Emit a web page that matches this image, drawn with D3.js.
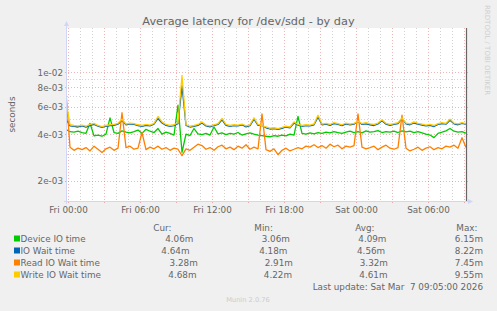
<!DOCTYPE html>
<html><head><meta charset="utf-8">
<script src="https://cdn.jsdelivr.net/npm/d3@7"></script>
<style>
html,body{margin:0;padding:0;background:#f0f0f0;}
svg{display:block;font-family:"DejaVu Sans",sans-serif;}
</style></head><body><div id="main"></div>
<script>
// values in milliseconds, one sample every 20 minutes starting Thu 23:50 UTC
const seriesNames  = ['Device IO time', 'IO Wait time', 'Read IO Wait time', 'Write IO Wait time'];
const seriesColors = ['#00cc00', '#0066b3', '#ff8000', '#ffcc00'];

const deviceIO = [4.30,4.15,4.12,4.18,4.10,4.05,4.70,3.90,3.95,3.88,4.00,5.10,4.10,4.05,4.20,4.12,4.08,4.15,4.25,4.05,
  4.30,4.18,4.10,4.35,4.00,4.12,4.05,3.95,6.15,3.06,4.00,3.92,4.35,4.02,3.98,4.05,3.95,4.45,4.02,4.08,
  3.98,4.05,4.00,4.10,3.95,4.02,4.08,4.00,3.95,3.92,3.88,3.85,3.92,3.88,3.95,3.90,4.00,3.95,5.20,4.05,
  4.00,4.08,4.02,4.10,4.05,4.12,4.08,4.15,4.10,4.05,4.12,4.18,4.10,4.15,4.08,4.20,4.12,4.15,4.22,4.10,
  4.16,4.12,4.18,4.10,4.20,4.14,4.18,4.10,4.15,4.08,4.00,3.95,3.80,4.05,4.12,4.20,4.35,4.18,4.12,4.15,4.06];
const ioWait = [5.00,4.52,4.50,4.45,4.52,4.44,4.55,4.62,4.50,4.42,4.50,4.55,4.56,4.64,4.90,4.60,4.66,4.62,4.55,4.50,
  4.56,4.52,4.64,5.05,4.72,4.56,4.50,4.54,4.68,8.22,4.55,4.45,4.50,4.56,4.72,4.52,4.46,4.55,4.62,4.95,
  4.56,4.50,4.54,4.52,4.60,4.46,4.54,5.00,4.56,4.55,4.40,4.32,4.35,4.30,4.36,4.45,4.40,4.72,4.58,4.50,
  4.54,4.52,4.60,5.15,4.60,4.64,4.56,4.68,4.62,4.54,4.66,4.60,4.64,4.85,4.62,4.66,4.60,4.55,4.66,4.88,
  4.64,4.56,4.62,4.68,5.05,4.66,4.60,4.72,4.64,4.58,4.52,4.56,4.48,4.62,4.68,4.64,4.92,4.66,4.60,4.70,4.64];
const readWait = [7.45,3.30,3.15,3.25,3.18,3.28,3.12,3.35,3.20,3.05,3.22,3.30,3.15,3.25,5.50,3.28,3.35,3.20,3.25,4.10,
  3.18,3.30,3.22,3.35,3.20,3.28,3.15,3.25,3.20,2.91,3.22,3.15,3.30,3.45,3.38,3.20,3.28,3.15,3.32,3.40,
  3.22,3.30,3.18,3.35,3.25,3.42,3.20,3.30,3.22,5.40,3.18,3.10,3.22,2.95,3.15,3.25,3.12,3.20,3.28,3.22,
  3.35,3.30,3.42,3.28,3.38,3.25,3.45,3.32,3.40,3.22,3.35,3.30,3.38,5.40,3.30,3.22,3.28,3.35,3.18,3.30,
  3.40,3.25,3.20,3.28,5.30,3.25,3.12,3.20,3.30,3.15,3.25,3.32,3.18,3.28,3.22,3.35,3.30,3.40,3.25,3.80,3.28];
const writeWait = [6.60,4.60,4.55,4.52,4.58,4.50,4.62,4.70,4.55,4.48,4.55,4.60,4.62,4.70,5.00,4.65,4.72,4.68,4.60,4.55,
  4.62,4.58,4.70,5.20,4.80,4.62,4.55,4.60,4.75,9.55,4.60,4.50,4.55,4.62,4.80,4.58,4.52,4.60,4.68,5.05,
  4.62,4.55,4.60,4.58,4.65,4.52,4.60,5.10,4.62,4.55,4.45,4.38,4.40,4.35,4.42,4.50,4.45,4.80,4.62,4.55,
  4.60,4.58,4.66,5.30,4.65,4.70,4.62,4.75,4.68,4.60,4.72,4.65,4.70,4.85,4.68,4.74,4.66,4.62,4.72,4.95,
  4.70,4.62,4.68,4.75,5.10,4.72,4.66,4.80,4.70,4.65,4.58,4.62,4.55,4.68,4.74,4.70,5.00,4.72,4.66,4.75,4.68];

const curVals = [4.06, 4.64, 3.28, 4.68];
const minVals = [3.06, 4.18, 2.91, 4.22];
const avgVals = [4.09, 4.56, 3.32, 4.61];
const maxVals = [6.15, 8.22, 7.45, 9.55];

const yMajorTicks  = [2e-3, 4e-3, 6e-3, 8e-3, 1e-2];
const yTickLabels  = ['2e-03', '4e-03', '6e-03', '8e-03', '1e-02'];
const yMinorTicks  = [3e-3, 5e-3, 7e-3, 9e-3];
const statHeaders  = ['Cur:', 'Min:', 'Avg:', 'Max:'];

const title = 'Average latency for /dev/sdd - by day';
const lastUpdate = 'Last update: Sat Mar  7 09:05:00 2026';

const W = 497, H = 311;
const plot = { left: 67, right: 466, top: 28, bottom: 201 };
const t0 = Date.UTC(2026, 2, 5, 23, 50), t1 = Date.UTC(2026, 2, 7, 9, 10);
const stepMs = 20 * 60 * 1000;

const sx = d3.scaleUtc().domain([t0, t1]).range([66, 466]);
const sy = d3.scaleLog().domain([1.486e-3, 1.93e-2]).range([plot.bottom, plot.top]);

const svg = d3.select('#main').append('svg')
  .attr('width', W).attr('height', H).attr('viewBox', [0, 0, W, H]);

svg.append('rect').attr('width', W).attr('height', H).attr('fill', '#f0f0f0');
svg.append('rect')
  .attr('x', plot.left).attr('y', plot.top)
  .attr('width', plot.right - plot.left).attr('height', plot.bottom - plot.top)
  .attr('fill', '#fff');

const GRID = 'rgba(143,143,143,0.4)', MGRID = 'rgba(222,79,79,0.42)';
const grid = svg.append('g').attr('shape-rendering', 'crispEdges').attr('stroke-dasharray', '1,2');

// vertical grid: every hour minor, every 3 hours major
d3.utcHour.range(new Date(t0), new Date(t1)).forEach(d => {
  const x = Math.round(sx(d)) + 0.5;
  if (x <= plot.left || x >= plot.right) return;
  const major = d.getUTCHours() % 3 === 0;
  grid.append('line').attr('x1', x).attr('x2', x)
    .attr('y1', plot.top).attr('y2', plot.bottom + (major ? 2 : 0))
    .attr('stroke', major ? MGRID : GRID);
});
// horizontal grid
yMinorTicks.forEach(v => {
  const y = Math.round(sy(v)) + 0.5;
  grid.append('line').attr('x1', plot.left).attr('x2', plot.right + 2)
    .attr('y1', y).attr('y2', y).attr('stroke', GRID);
});
yMajorTicks.forEach(v => {
  const y = Math.round(sy(v)) + 0.5;
  grid.append('line').attr('x1', plot.left - 2).attr('x2', plot.right + 2)
    .attr('y1', y).attr('y2', y).attr('stroke', MGRID);
});

// series
svg.append('clipPath').attr('id', 'clip').append('rect')
  .attr('x', plot.left).attr('y', plot.top)
  .attr('width', plot.right - plot.left).attr('height', plot.bottom - plot.top);

const allSeries = [deviceIO, ioWait, readWait, writeWait];
const line = d3.line()
  .x((d, i) => sx(t0 + i * stepMs))
  .y(d => sy(d / 1000));
svg.append('g').attr('clip-path', 'url(#clip)')
  .selectAll('path').data(allSeries).join('path')
  .attr('d', line)
  .attr('fill', 'none')
  .attr('stroke', (d, i) => seriesColors[i])
  .attr('stroke-width', 1.3)
  .attr('stroke-linejoin', 'round');

// right edge line
svg.append('line').attr('x1', plot.right + 0.5).attr('x2', plot.right + 0.5)
  .attr('y1', plot.top).attr('y2', plot.bottom).attr('stroke', '#666').attr('stroke-width', 1.2);

// axes (munin: AXIS/ARROW #CFD6F8)
const AX = '#cfd6f8';
svg.append('line').attr('x1', plot.left - 0.5).attr('x2', plot.left - 0.5)
  .attr('y1', plot.bottom + 3).attr('y2', 24).attr('stroke', AX);
svg.append('path').attr('d', `M${plot.left - 0.5},21 L${plot.left - 3},26 L${plot.left + 2},26 Z`).attr('fill', AX);
svg.append('line').attr('x1', plot.left - 3).attr('x2', 470)
  .attr('y1', plot.bottom + 0.5).attr('y2', plot.bottom + 0.5).attr('stroke', AX);
svg.append('path').attr('d', `M473,${plot.bottom + 0.5} L468,${plot.bottom - 2} L468,${plot.bottom + 3} Z`).attr('fill', AX);

const FONT = '#666';

// y axis labels
const ay = d3.axisLeft(sy).tickValues(yMajorTicks)
  .tickFormat((d, i) => yTickLabels[i]).tickSize(0).tickPadding(4);
const gy = svg.append('g').attr('transform', `translate(${plot.left},0)`).call(ay);
gy.select('.domain').remove();
gy.selectAll('text').attr('fill', FONT).attr('font-size', 8.8)
  .attr('font-family', '"DejaVu Sans",sans-serif');

// x axis labels
const ax = d3.axisBottom(sx)
  .tickValues(d3.utcHour.every(6).range(new Date(t0), new Date(t1)))
  .tickFormat(d3.utcFormat('%a %H:%M')).tickSize(0).tickPadding(6);
const gx = svg.append('g').attr('transform', `translate(0,${plot.bottom})`).call(ax);
gx.select('.domain').remove();
gx.selectAll('text').attr('fill', FONT).attr('font-size', 8.8)
  .attr('font-family', '"DejaVu Sans",sans-serif');

// titles
svg.append('text').attr('x', 248.5).attr('y', 25).attr('text-anchor', 'middle')
  .attr('font-size', 11.3).attr('fill', FONT).text(title);
svg.append('text').attr('transform', 'translate(15,114.5) rotate(-90)')
  .attr('text-anchor', 'middle').attr('font-size', 8.8).attr('fill', FONT).text('seconds');
svg.append('text').attr('transform', 'translate(484.5,5) rotate(90)')
  .attr('font-size', 7).attr('fill', '#cfcfcf').text('RRDTOOL / TOBI OETIKER');

// legend
statHeaders.forEach((h, k) => {
  svg.append('text').attr('x', 153.3 + k * 101).attr('y', 231)
    .attr('font-size', 8.8).attr('fill', FONT).text(h);
});
const fmt = v => '  ' + d3.format('.2f')(v) + 'm';
const legLeft = 20.5, legRight = 483;
seriesNames.forEach((name, r) => {
  const y = 242 + r * 12;
  const g = svg.append('g');
  g.append('rect').attr('x', 14).attr('y', y - 6.5).attr('width', 6).attr('height', 6)
    .attr('fill', seriesColors[r]);
  const items = [name.padEnd(18, ' '), fmt(curVals[r]), fmt(minVals[r]), fmt(avgVals[r]), fmt(maxVals[r])];
  const nodes = items.map(s => g.append('text')
    .attr('xml:space', 'preserve').style('white-space', 'pre')
    .attr('y', y).attr('font-size', 8.8).attr('fill', FONT).text(s));
  const widths = nodes.map(n => n.node().getComputedTextLength());
  const gap = (legRight - legLeft - d3.sum(widths)) / (items.length - 1);
  let x = legLeft;
  nodes.forEach((n, i) => { n.attr('x', x); x += widths[i] + gap; });
});
svg.append('text').attr('x', legRight).attr('y', 289.5).attr('text-anchor', 'end')
  .attr('xml:space', 'preserve').style('white-space', 'pre')
  .attr('font-size', 8.8).attr('fill', FONT).text(lastUpdate);
svg.append('text').attr('x', 248).attr('y', 302).attr('text-anchor', 'middle')
  .attr('font-size', 6.7).attr('fill', '#cccccc').text('Munin 2.0.76');
</script></body></html>
